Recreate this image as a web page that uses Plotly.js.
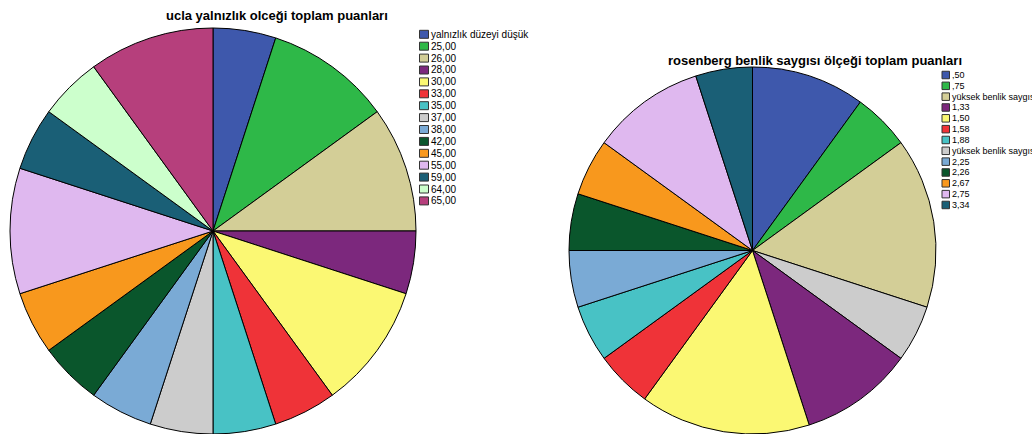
<!DOCTYPE html>
<html>
<head>
<meta charset="utf-8">
<script src="https://cdn.plot.ly/plotly-3.0.1.min.js"></script>
<style>
html,body{margin:0;padding:0;overflow:hidden;background:#fff;}
#chart{width:1032px;height:434px;}
</style>
</head>
<body>
<div id="chart"></div>
<script>
// ---- Left chart data (UCLA loneliness scale) ----
var uclaTitle = 'ucla yalnızlık olceği toplam puanları';
var uclaLabels = ['yalnızlık düzeyi düşük','25,00','26,00','28,00','30,00','33,00','35,00','37,00','38,00','42,00','45,00','55,00','59,00','64,00','65,00'];
var uclaValues = [1,2,2,1,2,1,1,1,1,1,1,2,1,1,2];
var uclaColors = ['#3E58AC','#2EB848','#D3CE97','#7C287D','#FBF873','#EF3338','#48C2C5','#CCCCCC','#7AAAD5','#0A562C','#F8981D','#DFB8EF','#1A5F76','#CCFFCC','#B63F7C'];

// ---- Right chart data (Rosenberg self-esteem scale), legend order ----
var rosTitle = 'rosenberg benlik saygısı ölçeği toplam puanları';
var rosLabels = [',50',',75','yüksek benlik saygısı düşük','1,33','1,50','1,58','1,88','yüksek benlik saygısı yüksek','2,25','2,26','2,67','2,75','3,34'];
var rosValues = [2,1,3,2,3,1,1,1,1,1,1,2,1];
var rosColors = ['#3E58AC','#2EB848','#D3CE97','#7C287D','#FBF873','#EF3338','#48C2C5','#CCCCCC','#7AAAD5','#0A562C','#F8981D','#DFB8EF','#1A5F76'];
// order in which the slices appear around the pie (indices into the arrays above)
var rosSliceOrder = [0,1,2,7,3,4,5,6,8,9,10,11,12];

var W = 1032, H = 434;
function px(x){return x/W;}
function py(y){return 1 - y/H;}
var FONT = 'Liberation Sans, Arial, sans-serif';

var rosL = rosSliceOrder.map(function(i){return rosLabels[i];});
var rosV = rosSliceOrder.map(function(i){return rosValues[i];});
var rosC = rosSliceOrder.map(function(i){return rosColors[i];});

var traces = [
  {
    type:'pie', labels:uclaLabels, values:uclaValues, sort:false, direction:'clockwise', rotation:0,
    marker:{colors:uclaColors, line:{color:'#000', width:1}},
    textinfo:'none', showlegend:false,
    domain:{x:[px(10), px(416)], y:[py(434), py(28)]}
  },
  {
    type:'pie', labels:rosL, values:rosV, sort:false, direction:'clockwise', rotation:0,
    marker:{colors:rosC, line:{color:'#000', width:1}},
    textinfo:'none', showlegend:false,
    domain:{x:[px(569), px(936)], y:[py(434), py(67)]}
  }
];

var shapes = [], annotations = [];
function addLegend(labels, colors, x0, yFirst, step, sw, sh, fs){
  for (var i=0;i<labels.length;i++){
    var yc = yFirst + i*step;
    shapes.push({type:'rect', xref:'paper', yref:'paper',
      x0:px(x0), x1:px(x0+sw), y0:py(yc+sh/2), y1:py(yc-sh/2),
      fillcolor:colors[i], line:{color:'#333', width:1}});
    annotations.push({xref:'paper', yref:'paper', x:px(x0+sw+1), y:py(yc),
      xanchor:'left', yanchor:'middle', showarrow:false, text:labels[i],
      font:{family:FONT, size:fs, color:'#000'}, borderpad:0});
  }
}
addLegend(uclaLabels, uclaColors, 419.5, 34.3, 11.9, 9, 8, 10);
addLegend(rosLabels, rosColors, 942, 75, 10.83, 7.5, 7.5, 9);

annotations.push({xref:'paper', yref:'paper', x:px(277), y:py(16), xanchor:'center', yanchor:'middle',
  showarrow:false, text:'<b>'+uclaTitle+'</b>', font:{family:FONT, size:13, color:'#000'}});
annotations.push({xref:'paper', yref:'paper', x:px(815), y:py(60), xanchor:'center', yanchor:'middle',
  showarrow:false, text:'<b>'+rosTitle+'</b>', font:{family:FONT, size:13, color:'#000'}});

var layout = {
  width:W, height:H, margin:{l:0,r:0,t:0,b:0},
  paper_bgcolor:'#fff', plot_bgcolor:'#fff',
  showlegend:false, shapes:shapes, annotations:annotations,
  font:{family:FONT}
};
Plotly.newPlot('chart', traces, layout, {displayModeBar:false, staticPlot:true});
</script>
</body>
</html>
